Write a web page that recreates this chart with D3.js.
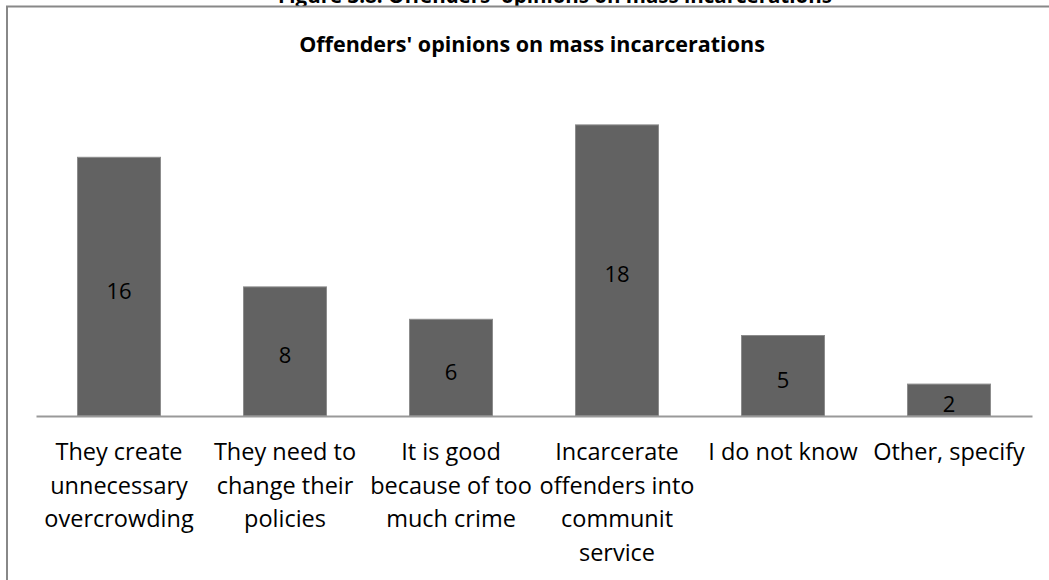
<!DOCTYPE html>
<html>
<head>
<meta charset="utf-8">
<script src="https://cdn.jsdelivr.net/npm/d3@7"></script>
<style>
  html, body { margin: 0; padding: 0; background: #fff; }
  svg { display: block; }
  text { font-family: "Open Sans", "Liberation Sans", sans-serif; }
</style>
</head>
<body>
<svg id="chart" width="1049" height="580"></svg>
<script>
const categories = [
  "They create unnecessary overcrowding",
  "They need to change their policies",
  "It is good because of too much crime",
  "Incarcerate offenders into communit service",
  "I do not know",
  "Other, specify"
];
const categoryLines = [
  ["They create", "unnecessary", "overcrowding"],
  ["They need to", "change their", "policies"],
  ["It is good", "because of too", "much crime"],
  ["Incarcerate", "offenders into", "communit", "service"],
  ["I do not know"],
  ["Other, specify"]
];
const values = [16, 8, 6, 18, 5, 2];
const chartTitle = "Offenders' opinions on mass incarcerations";
const figureCaption = "Figure 3.8: Offenders' opinions on mass incarcerations";

const svg = d3.select("#chart");
const W = 1049, H = 580;

// cut-off figure caption above the frame
svg.append("text")
  .attr("x", 555).attr("y", 3)
  .attr("text-anchor", "middle")
  .attr("font-weight", "bold")
  .attr("font-size", 20.5)
  .attr("fill", "#000")
  .text(figureCaption);

// frame
svg.append("rect")
  .attr("x", 7).attr("y", 6.5)
  .attr("width", W + 20).attr("height", H + 20)
  .attr("fill", "#fff")
  .attr("stroke", "#888").attr("stroke-width", 2);

// title
svg.append("text")
  .attr("x", 532).attr("y", 52)
  .attr("text-anchor", "middle")
  .attr("font-weight", "bold")
  .attr("font-size", 21.5)
  .attr("fill", "#000")
  .text(chartTitle);

const x = d3.scaleBand()
  .domain(categories)
  .range([36, 1032])
  .paddingInner(0.494)
  .paddingOuter(0.247);

const y = d3.scaleLinear()
  .domain([0, 20])
  .range([416, 92]);

// bars
svg.append("g").selectAll("rect")
  .data(values)
  .join("rect")
  .attr("x", (d, i) => x(categories[i]) + 0.5)
  .attr("y", d => y(d) + 0.5)
  .attr("width", x.bandwidth() - 1)
  .attr("height", d => y(0) - y(d) - 0.5)
  .attr("fill", "#626262")
  .attr("stroke", "#8c8c8c")
  .attr("stroke-width", 1);

// value labels
svg.append("g").selectAll("text")
  .data(values)
  .join("text")
  .attr("x", (d, i) => x(categories[i]) + x.bandwidth() / 2)
  .attr("y", d => (y(d) + y(0)) / 2)
  .attr("dy", "0.55em")
  .attr("text-anchor", "middle")
  .attr("font-size", 22)
  .attr("fill", "#000")
  .text(d => d);

// x axis
const xAxis = d3.axisBottom(x).tickSize(0).tickFormat("");
const gx = svg.append("g")
  .attr("transform", `translate(0,${y(0)})`)
  .call(xAxis);
gx.select(".domain").attr("stroke", "#999").attr("stroke-width", 2);

// category labels
const lab = svg.append("g").selectAll("text")
  .data(categories)
  .join("text")
  .attr("text-anchor", "middle")
  .attr("font-size", 23.5)
  .attr("fill", "#000")
  .attr("transform", d => `translate(${x(d) + x.bandwidth() / 2},460)`);
lab.each(function(d, i) {
  d3.select(this).selectAll("tspan")
    .data(categoryLines[i])
    .join("tspan")
    .attr("x", 0)
    .attr("y", (t, j) => j * 33.5)
    .text(t => t);
});
</script>
</body>
</html>
